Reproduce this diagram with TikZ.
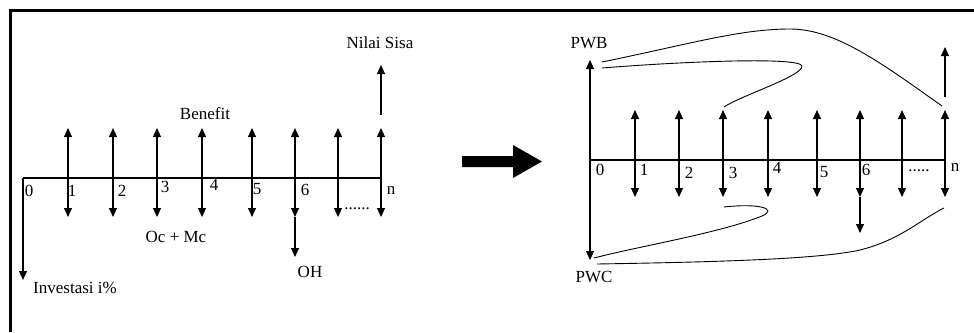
\documentclass[tikz,border=0pt]{standalone}
\usepackage{fontspec}
\setmainfont{Liberation Serif}
\usetikzlibrary{arrows.meta}
\tikzset{
  txt/.style={font=\fontsize{17}{20}\selectfont, inner sep=0pt},
  flow/.style={line width=1.1pt, -{Triangle[length=9pt,width=8pt]}},
  both/.style={line width=1.1pt, {Triangle[length=9pt,width=8pt]}-{Triangle[length=9pt,width=8pt]}},
  axis/.style={line width=1.2pt},
  sweep/.style={line width=0.9pt}
}
\begin{document}
\begin{tikzpicture}[x=1pt,y=-1pt]
      \useasboundingbox (0,0) rectangle (974,332);
      % frame
      \draw[line width=3pt] (974,10) -- (10,10) -- (10,332);
      % left diagram
      \draw
        (23,178) coordinate (L0)
        (381,178) coordinate (Ln)
        (23,280) coordinate (inv)
        (68,128) coordinate (lt1) (68,217) coordinate (lb1)
        (113,128) coordinate (lt2) (113,217) coordinate (lb2)
        (157,128) coordinate (lt3) (157,217) coordinate (lb3)
        (202,128) coordinate (lt4) (202,217) coordinate (lb4)
        (252,128) coordinate (lt5) (252,217) coordinate (lb5)
        (295,128) coordinate (lt6) (295,217) coordinate (lb6)
        (338,128) coordinate (lt7) (338,217) coordinate (lb7)
        (381,128) coordinate (lt8) (381,217) coordinate (lb8)
        (295,257) coordinate (oh)
        (381,115) coordinate (ns0) (381,65) coordinate (ns1);
      \draw
        (29,191) node[txt] (l0){0}
        (72,191) node[txt] (l1){1}
        (122,191) node[txt] (l2){2}
        (165,187) node[txt] (l3){3}
        (214,185) node[txt] (l4){4}
        (257,189) node[txt] (l5){5}
        (305,190) node[txt] (l6){6}
        (357,209) node[txt] (ldots){......}
        (391,190) node[txt] (ln){n}
        (205,114) node[txt] (benefit){Benefit}
        (176,237) node[txt] (ocmc){Oc + Mc}
        (310,272) node[txt] (ohlbl){OH}
        (75,288) node[txt] (invlbl){Investasi i\%}
        (380,43) node[txt] (nslbl){Nilai Sisa};
      \begin{scope}
        \draw[axis] (L0) -- (Ln);
        \draw[flow] (L0) -- (inv);
        \draw[both] (lb1) -- (lt1);
        \draw[both] (lb2) -- (lt2);
        \draw[both] (lb3) -- (lt3);
        \draw[both] (lb4) -- (lt4);
        \draw[both] (lb5) -- (lt5);
        \draw[both] (lb6) -- (lt6);
        \draw[both] (lb7) -- (lt7);
        \draw[both] (lb8) -- (lt8);
        \draw[flow] (lb6) -- (oh);
        \draw[flow] (ns0) -- (ns1);
      \end{scope}
      % big arrow
      \fill (462,156) -- (513,156) -- (513,145) -- (542,161.5) -- (513,178)
        -- (513,167) -- (462,167) -- cycle;
      % right diagram
      \draw
        (590,160) coordinate (R0)
        (944,160) coordinate (Rn)
        (590,60) coordinate (pwbt) (590,260) coordinate (pwcb)
        (635,110) coordinate (rt1) (635,197) coordinate (rb1)
        (679,110) coordinate (rt2) (679,197) coordinate (rb2)
        (723,110) coordinate (rt3) (723,197) coordinate (rb3)
        (768,110) coordinate (rt4) (768,197) coordinate (rb4)
        (817,110) coordinate (rt5) (817,197) coordinate (rb5)
        (860,110) coordinate (rt6) (860,197) coordinate (rb6)
        (902,110) coordinate (rt7) (902,197) coordinate (rb7)
        (945,110) coordinate (rt8) (945,197) coordinate (rb8)
        (860,233) coordinate (r6x)
        (945,97) coordinate (rn0) (945,47) coordinate (rn1);
      \draw
        (600,170) node[txt] (r0){0}
        (644,170) node[txt] (r1){1}
        (689,173) node[txt] (r2){2}
        (733,173) node[txt] (r3){3}
        (777,168) node[txt] (r4){4}
        (824,172) node[txt] (r5){5}
        (866,170) node[txt] (r6){6}
        (919,171) node[txt] (rdots){.....}
        (955,167) node[txt] (rn){n}
        (589,43) node[txt] (pwb){PWB}
        (594,277) node[txt] (pwc){PWC};
      \begin{scope}
        \draw[axis] (R0) -- (Rn);
        \draw[both] (pwcb) -- (pwbt);
        \draw[both] (rb1) -- (rt1);
        \draw[both] (rb2) -- (rt2);
        \draw[both] (rb3) -- (rt3);
        \draw[both] (rb4) -- (rt4);
        \draw[both] (rb5) -- (rt5);
        \draw[both] (rb6) -- (rt6);
        \draw[both] (rb7) -- (rt7);
        \draw[both] (rb8) -- (rt8);
        \draw[flow] (rb6) -- (r6x);
        \draw[flow] (rn0) -- (rn1);
      \end{scope}
      % sweeps
      \begin{scope}[sweep]
        \draw (602,62) .. controls (690,44) and (740,29) .. (790,29)
          .. controls (835,29) and (880,62) .. (942,106);
        \draw (602,68) .. controls (690,61) and (800,57) .. (802,66)
          .. controls (803,76) and (740,96) .. (724,107);
        \draw (724,207) .. controls (760,203) and (778,209) .. (762,216)
          .. controls (720,233) and (640,246) .. (594,258);
        \draw (597,264) .. controls (720,262) and (820,259) .. (860,250)
          .. controls (900,240) and (920,220) .. (944,208);
      \end{scope}
    \end{tikzpicture}
\end{document}
